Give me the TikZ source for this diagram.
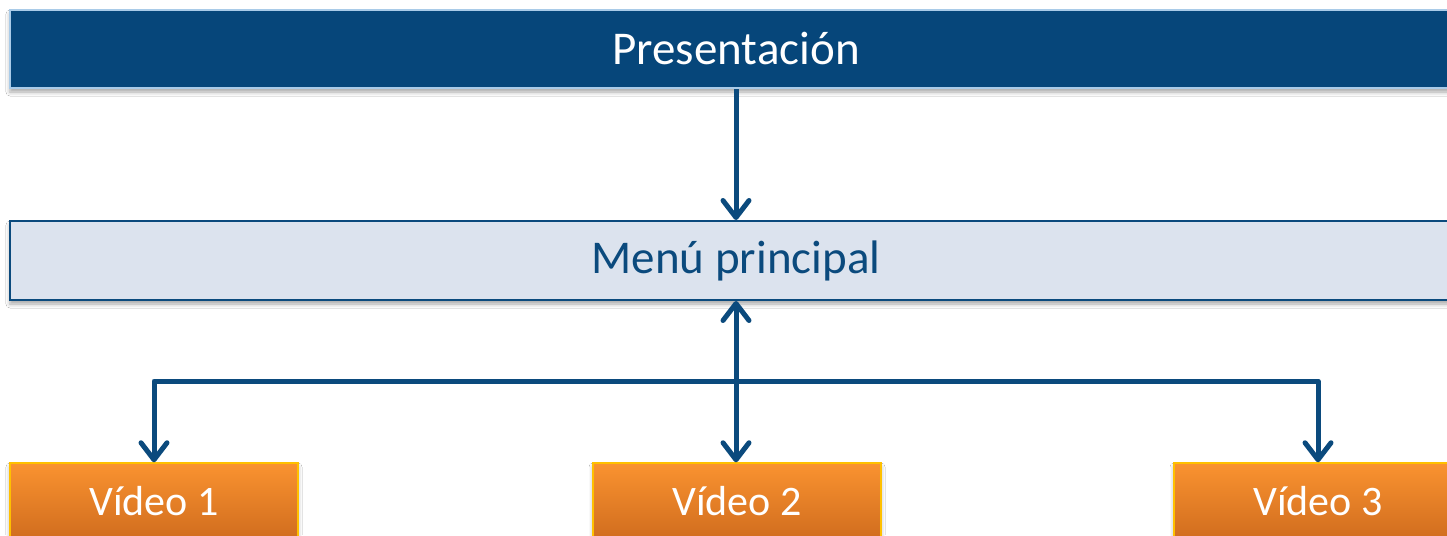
\documentclass[tikz,border=0pt]{standalone}
\usepackage{fontspec}
\setmainfont{Carlito}
\usetikzlibrary{arrows.meta,shadows.blur}
\definecolor{darkblue}{HTML}{06467A}
\definecolor{lineblue}{HTML}{0B4A7D}
\definecolor{lightedge}{HTML}{A9CBE8}
\definecolor{menufill}{HTML}{DCE3EE}
\definecolor{orangetop}{HTML}{FA9330}
\definecolor{orangebot}{HTML}{D06C1E}
\definecolor{orangeedge}{HTML}{FFC000}
\tikzset{
  boxshadow/.style={blur shadow={shadow xshift=0pt, shadow yshift=-4pt, shadow blur radius=4pt, shadow opacity=35}},
  topbox/.style={rectangle, fill=darkblue, draw=lightedge, line width=2pt, text=white,
    minimum width=1452pt, minimum height=78pt, inner sep=0pt, boxshadow,
    font=\fontsize{47pt}{56pt}\selectfont},
  menubox/.style={rectangle, fill=menufill, draw=lineblue, line width=2pt, text=lineblue,
    minimum width=1452pt, minimum height=79pt, inner sep=0pt, boxshadow,
    font=\fontsize{47pt}{56pt}\selectfont},
  videobox/.style={rectangle, top color=orangetop, bottom color=orangebot, draw=orangeedge, line width=1.5pt, text=white,
    minimum width=288pt, minimum height=77pt, inner sep=0pt, boxshadow,
    font=\fontsize{42pt}{50pt}\selectfont},
  conn/.style={draw=lineblue, line width=5pt, line join=round,
    arrows={-Straight Barb[length=17pt, width=26pt, line width=5pt, round]}},
  both/.style={draw=lineblue, line width=5pt,
    arrows={Straight Barb[length=17pt, width=26pt, line width=5pt, round]-Straight Barb[length=17pt, width=26pt, line width=5pt, round]}},
}
\begin{document}
\begin{tikzpicture}[x=1pt, y=-1pt]
\useasboundingbox (0,0) rectangle (1447,535);
\clip (0,0) rectangle (1447,535);
\fill[white] (0,0) rectangle (1447,535);
\node[topbox] (pres) at (736,49) {Presentación};
\node[menubox] (menu) at (736,260.5) {Menú principal};
\node[videobox] (v1) at (154,501.5) {Vídeo 1};
\node[videobox] (v2) at (737,501.5) {Vídeo 2};
\node[videobox] (v3) at (1318,501.5) {Vídeo 3};
\coordinate (bus) at (736,381);
\draw[conn] (pres.south -| menu.north) -- (menu.north);
\draw[both] (menu.south) -- (menu.south |- v2.north);
\draw[conn] (bus) -| (v1.north);
\draw[conn] (bus) -| (v3.north);
\end{tikzpicture}
\end{document}
